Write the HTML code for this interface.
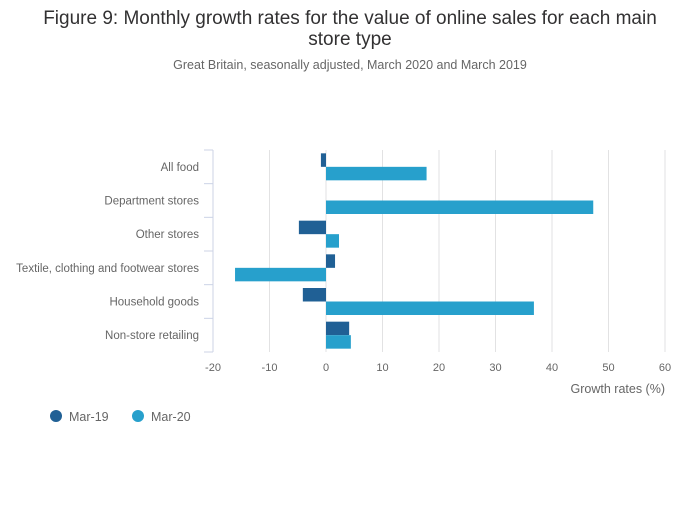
<!DOCTYPE html>
<html><head><meta charset="utf-8"><style>
body{margin:0;background:#fff;font-family:"Liberation Sans",sans-serif;}
svg text{font-family:"Liberation Sans",sans-serif;}
</style></head><body>
<svg width="700" height="502" id="c">
<text x="350" y="24" text-anchor="middle" font-size="19" fill="#323132">Figure 9: Monthly growth rates for the value of online sales for each main</text>
<text x="350" y="45" text-anchor="middle" font-size="19" fill="#323132">store type</text>
<text x="350" y="69" text-anchor="middle" font-size="12.5" fill="#666">Great Britain, seasonally adjusted, March 2020 and March 2019</text>
<g id="grid"></g><g id="bars"></g><g id="axes"></g>
<text x="665" y="393" text-anchor="end" font-size="12.5" fill="#666">Growth rates (%)</text>
<g><circle cx="56" cy="416" r="6" fill="#206095"/><text x="69" y="421" font-size="12.5" fill="#666">Mar-19</text></g>
<g><circle cx="138" cy="416" r="6" fill="#27a0cc"/><text x="151" y="421" font-size="12.5" fill="#666">Mar-20</text></g>
</svg>
<script>
const categories=["All food","Department stores","Other stores","Textile, clothing and footwear stores","Household goods","Non-store retailing"];
const mar19=[-0.9,0,-4.8,1.6,-4.1,4.1];
const mar20=[17.8,47.3,2.3,-16.1,36.8,4.4];
const ticks=[-20,-10,0,10,20,30,40,50,60];
const NS="http://www.w3.org/2000/svg";
const x0=213,x1=665,dmin=-20,dmax=60,yTop=150,yBot=352;
const X=v=>x0+(v-dmin)/(dmax-dmin)*(x1-x0);
const band=(yBot-yTop)/categories.length;
function mk(t,a,p){const e=document.createElementNS(NS,t);for(const k in a)e.setAttribute(k,a[k]);p.appendChild(e);return e;}
const g=document.getElementById('grid'),b=document.getElementById('bars'),ax=document.getElementById('axes');
ticks.forEach(t=>{
 if(t!==dmin){const l=mk('line',{x1:X(t),x2:X(t),y1:yTop,y2:yBot,stroke:'#e2e2e3','stroke-width':1},g);
 
 }
 const tx=mk('text',{x:X(t),y:371,'text-anchor':'middle','font-size':11,fill:'#666'},ax);tx.textContent=t;
 
 
});
const yl=mk('line',{x1:x0,x2:x0,y1:yTop,y2:yBot,stroke:'#ccd3e6','stroke-width':1},ax);


for(let i=0;i<=categories.length;i++){const tk=mk('line',{x1:204,x2:x0,y1:yTop+i*band,y2:yTop+i*band,stroke:'#ccd3e6','stroke-width':1},ax);
 
 }
const bh=13.5;
categories.forEach((c,i)=>{
 const cy=yTop+band*(i+0.5);
 const t=mk('text',{x:199,y:cy+4,'text-anchor':'end','font-size':11.5,fill:'#666'},ax);t.textContent=c;
 
 
 [[mar19[i],'#206095',cy-bh,'bar-mar-19'],[mar20[i],'#27a0cc',cy,'bar-mar-20']].forEach(([v,col,y,n])=>{
  const r=mk('rect',{x:Math.min(X(0),X(v)),y:y,width:Math.abs(X(v)-X(0)),height:bh,fill:col},b);
  
  
 });
});
</script>
</body></html>
